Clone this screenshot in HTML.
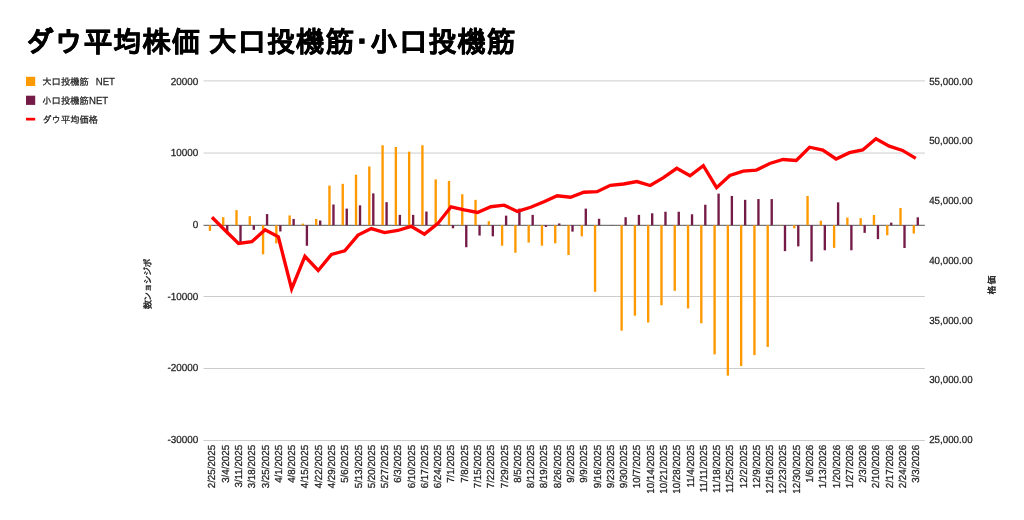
<!DOCTYPE html>
<html lang="ja"><head><meta charset="utf-8"><title>ダウ平均株価 大口投機筋･小口投機筋</title>
<style>html,body{margin:0;padding:0;background:#fff;}body{width:1024px;height:520px;overflow:hidden;}svg{display:block;}</style></head>
<body>
<svg width="1024" height="520" viewBox="0 0 1024 520" text-rendering="geometricPrecision">
<rect width="1024" height="520" fill="#ffffff"/>
<rect x="203.5" y="80.40" width="721.30" height="1" fill="#cccccc"/>
<rect x="203.5" y="152.55" width="721.30" height="1" fill="#cccccc"/>
<rect x="203.5" y="296.00" width="721.30" height="1" fill="#cccccc"/>
<rect x="203.5" y="368.00" width="721.30" height="1" fill="#cccccc"/>
<rect x="203.5" y="440.00" width="721.30" height="1" fill="#cccccc"/>
<rect x="203.5" y="224.80" width="721.30" height="1" fill="#555555"/>
<rect x="208.77" y="225.20" width="2.35" height="5.68" fill="#ff9900"/>
<rect x="212.77" y="225.20" width="2.35" height="0.36" fill="#741b47"/>
<rect x="222.05" y="217.18" width="2.35" height="8.02" fill="#ff9900"/>
<rect x="226.05" y="225.20" width="2.35" height="8.99" fill="#741b47"/>
<rect x="235.33" y="210.14" width="2.35" height="15.06" fill="#ff9900"/>
<rect x="239.33" y="225.20" width="2.35" height="16.82" fill="#741b47"/>
<rect x="248.61" y="216.21" width="2.35" height="8.99" fill="#ff9900"/>
<rect x="252.61" y="225.20" width="2.35" height="4.67" fill="#741b47"/>
<rect x="261.89" y="225.20" width="2.35" height="29.12" fill="#ff9900"/>
<rect x="265.89" y="214.06" width="2.35" height="11.14" fill="#741b47"/>
<rect x="275.17" y="225.20" width="2.35" height="18.19" fill="#ff9900"/>
<rect x="279.17" y="225.20" width="2.35" height="6.26" fill="#741b47"/>
<rect x="288.45" y="215.42" width="2.35" height="9.78" fill="#ff9900"/>
<rect x="292.45" y="218.94" width="2.35" height="6.26" fill="#741b47"/>
<rect x="301.73" y="223.62" width="2.35" height="1.58" fill="#ff9900"/>
<rect x="305.73" y="225.20" width="2.35" height="20.56" fill="#741b47"/>
<rect x="315.01" y="218.94" width="2.35" height="6.26" fill="#ff9900"/>
<rect x="319.01" y="220.53" width="2.35" height="4.67" fill="#741b47"/>
<rect x="328.29" y="185.60" width="2.35" height="39.60" fill="#ff9900"/>
<rect x="332.29" y="204.52" width="2.35" height="20.68" fill="#741b47"/>
<rect x="341.57" y="183.85" width="2.35" height="41.35" fill="#ff9900"/>
<rect x="345.57" y="208.62" width="2.35" height="16.58" fill="#741b47"/>
<rect x="354.85" y="174.68" width="2.35" height="50.52" fill="#ff9900"/>
<rect x="358.85" y="205.31" width="2.35" height="19.89" fill="#741b47"/>
<rect x="368.13" y="166.49" width="2.35" height="58.71" fill="#ff9900"/>
<rect x="372.13" y="193.41" width="2.35" height="31.79" fill="#741b47"/>
<rect x="381.41" y="145.23" width="2.35" height="79.97" fill="#ff9900"/>
<rect x="385.41" y="202.18" width="2.35" height="23.02" fill="#741b47"/>
<rect x="394.69" y="146.98" width="2.35" height="78.22" fill="#ff9900"/>
<rect x="398.69" y="214.86" width="2.35" height="10.34" fill="#741b47"/>
<rect x="407.97" y="151.66" width="2.35" height="73.54" fill="#ff9900"/>
<rect x="411.97" y="214.86" width="2.35" height="10.34" fill="#741b47"/>
<rect x="421.25" y="145.23" width="2.35" height="79.97" fill="#ff9900"/>
<rect x="425.25" y="211.55" width="2.35" height="13.65" fill="#741b47"/>
<rect x="434.53" y="179.36" width="2.35" height="45.84" fill="#ff9900"/>
<rect x="438.53" y="224.48" width="2.35" height="0.72" fill="#741b47"/>
<rect x="447.81" y="180.92" width="2.35" height="44.28" fill="#ff9900"/>
<rect x="451.81" y="225.20" width="2.35" height="3.09" fill="#741b47"/>
<rect x="461.09" y="194.28" width="2.35" height="30.92" fill="#ff9900"/>
<rect x="465.09" y="225.20" width="2.35" height="22.04" fill="#741b47"/>
<rect x="474.37" y="199.84" width="2.35" height="25.36" fill="#ff9900"/>
<rect x="478.37" y="225.20" width="2.35" height="10.34" fill="#741b47"/>
<rect x="487.65" y="221.21" width="2.35" height="3.99" fill="#ff9900"/>
<rect x="491.65" y="225.20" width="2.35" height="11.12" fill="#741b47"/>
<rect x="500.93" y="225.20" width="2.35" height="20.48" fill="#ff9900"/>
<rect x="504.93" y="215.64" width="2.35" height="9.56" fill="#741b47"/>
<rect x="514.22" y="225.20" width="2.35" height="27.50" fill="#ff9900"/>
<rect x="518.22" y="208.62" width="2.35" height="16.58" fill="#741b47"/>
<rect x="527.50" y="225.20" width="2.35" height="17.36" fill="#ff9900"/>
<rect x="531.50" y="214.86" width="2.35" height="10.34" fill="#741b47"/>
<rect x="540.78" y="225.20" width="2.35" height="20.48" fill="#ff9900"/>
<rect x="544.78" y="225.20" width="2.35" height="1.75" fill="#741b47"/>
<rect x="554.06" y="225.20" width="2.35" height="18.14" fill="#ff9900"/>
<rect x="558.06" y="223.45" width="2.35" height="1.75" fill="#741b47"/>
<rect x="567.34" y="225.20" width="2.35" height="29.85" fill="#ff9900"/>
<rect x="571.34" y="225.20" width="2.35" height="6.44" fill="#741b47"/>
<rect x="580.62" y="225.20" width="2.35" height="11.12" fill="#ff9900"/>
<rect x="584.62" y="208.62" width="2.35" height="16.58" fill="#741b47"/>
<rect x="593.89" y="225.20" width="2.35" height="66.62" fill="#ff9900"/>
<rect x="597.89" y="218.76" width="2.35" height="6.44" fill="#741b47"/>
<rect x="611.17" y="224.98" width="2.35" height="0.22" fill="#741b47"/>
<rect x="620.46" y="225.20" width="2.35" height="105.51" fill="#ff9900"/>
<rect x="624.46" y="217.20" width="2.35" height="8.00" fill="#741b47"/>
<rect x="633.74" y="225.20" width="2.35" height="90.46" fill="#ff9900"/>
<rect x="637.74" y="214.86" width="2.35" height="10.34" fill="#741b47"/>
<rect x="647.01" y="225.20" width="2.35" height="97.30" fill="#ff9900"/>
<rect x="651.01" y="213.30" width="2.35" height="11.90" fill="#741b47"/>
<rect x="660.30" y="225.20" width="2.35" height="80.10" fill="#ff9900"/>
<rect x="664.30" y="211.74" width="2.35" height="13.46" fill="#741b47"/>
<rect x="673.58" y="225.20" width="2.35" height="65.64" fill="#ff9900"/>
<rect x="677.58" y="211.74" width="2.35" height="13.46" fill="#741b47"/>
<rect x="686.86" y="225.20" width="2.35" height="83.23" fill="#ff9900"/>
<rect x="690.86" y="214.28" width="2.35" height="10.92" fill="#741b47"/>
<rect x="700.13" y="225.20" width="2.35" height="98.08" fill="#ff9900"/>
<rect x="704.13" y="204.72" width="2.35" height="20.48" fill="#741b47"/>
<rect x="713.41" y="225.20" width="2.35" height="129.15" fill="#ff9900"/>
<rect x="717.41" y="193.60" width="2.35" height="31.60" fill="#741b47"/>
<rect x="726.69" y="225.20" width="2.35" height="150.44" fill="#ff9900"/>
<rect x="730.69" y="195.94" width="2.35" height="29.26" fill="#741b47"/>
<rect x="739.97" y="225.20" width="2.35" height="140.87" fill="#ff9900"/>
<rect x="743.97" y="199.84" width="2.35" height="25.36" fill="#741b47"/>
<rect x="753.26" y="225.20" width="2.35" height="129.93" fill="#ff9900"/>
<rect x="757.26" y="199.06" width="2.35" height="26.14" fill="#741b47"/>
<rect x="766.54" y="225.20" width="2.35" height="121.72" fill="#ff9900"/>
<rect x="770.54" y="199.09" width="2.35" height="26.11" fill="#741b47"/>
<rect x="779.82" y="225.20" width="2.35" height="0.43" fill="#ff9900"/>
<rect x="783.82" y="225.20" width="2.35" height="25.93" fill="#741b47"/>
<rect x="793.10" y="225.20" width="2.35" height="3.09" fill="#ff9900"/>
<rect x="797.10" y="225.20" width="2.35" height="21.17" fill="#741b47"/>
<rect x="806.38" y="195.99" width="2.35" height="29.21" fill="#ff9900"/>
<rect x="810.38" y="225.20" width="2.35" height="36.32" fill="#741b47"/>
<rect x="819.65" y="220.67" width="2.35" height="4.53" fill="#ff9900"/>
<rect x="823.65" y="225.20" width="2.35" height="25.06" fill="#741b47"/>
<rect x="832.93" y="225.20" width="2.35" height="22.65" fill="#ff9900"/>
<rect x="836.93" y="202.34" width="2.35" height="22.86" fill="#741b47"/>
<rect x="846.21" y="217.58" width="2.35" height="7.62" fill="#ff9900"/>
<rect x="850.21" y="225.20" width="2.35" height="25.06" fill="#741b47"/>
<rect x="859.49" y="218.18" width="2.35" height="7.02" fill="#ff9900"/>
<rect x="863.49" y="225.20" width="2.35" height="7.66" fill="#741b47"/>
<rect x="872.78" y="215.07" width="2.35" height="10.13" fill="#ff9900"/>
<rect x="876.78" y="225.20" width="2.35" height="13.93" fill="#741b47"/>
<rect x="886.06" y="225.20" width="2.35" height="10.05" fill="#ff9900"/>
<rect x="890.06" y="222.64" width="2.35" height="2.56" fill="#741b47"/>
<rect x="899.34" y="207.94" width="2.35" height="17.26" fill="#ff9900"/>
<rect x="903.34" y="225.20" width="2.35" height="22.81" fill="#741b47"/>
<rect x="912.62" y="225.20" width="2.35" height="8.35" fill="#ff9900"/>
<rect x="916.62" y="217.33" width="2.35" height="7.87" fill="#741b47"/>
<polyline points="211.95,217.30 225.23,230.48 238.51,243.52 251.79,241.75 265.07,229.68 278.35,236.85 291.63,288.92 304.91,256.28 318.19,270.45 331.47,254.37 344.75,250.76 358.03,235.05 371.31,228.61 384.59,232.62 397.87,230.49 411.15,226.33 424.43,234.14 437.71,223.67 450.99,206.82 464.27,209.86 477.55,212.48 490.83,206.74 504.11,205.17 517.39,211.41 530.67,207.25 543.95,201.70 557.23,195.76 570.51,197.22 583.79,192.24 597.07,191.68 610.35,185.27 623.63,184.01 636.91,181.55 650.19,185.54 663.47,177.69 676.75,168.33 690.03,175.77 703.31,165.67 716.59,187.68 729.87,175.45 743.15,171.11 756.43,170.08 769.71,163.44 782.99,159.51 796.27,160.41 809.55,147.23 822.83,150.18 836.11,158.96 849.39,152.70 862.67,149.94 875.95,138.68 889.23,146.11 902.51,150.42 915.79,158.39" fill="none" stroke="#ff0000" stroke-width="3.35" stroke-linejoin="miter" stroke-linecap="butt"/>
<text x="25.1" y="52.1" font-family="&quot;Liberation Sans&quot;, &quot;IPAGothic&quot;, sans-serif" font-size="28.6" font-weight="bold" fill="#000000" stroke="#000000" stroke-width="0.45" letter-spacing="0.7" word-spacing="-1.3">ダウ平均株価 大口投機筋･小口投機筋</text>
<rect x="26" y="76.8" width="9.2" height="9.2" fill="#ff9900"/>
<text transform="translate(42.30,85.00)" font-family="&quot;Liberation Sans&quot;, &quot;IPAGothic&quot;, sans-serif" font-size="9.3" text-anchor="start" fill="#222222" stroke="#222222" stroke-width="0.25" >大口投機筋</text>
<text transform="translate(95.80,85.00) scale(0.94,1)" font-family="&quot;Liberation Sans&quot;, &quot;IPAGothic&quot;, sans-serif" font-size="10.2" text-anchor="start" fill="#222222" stroke="#222222" stroke-width="0.25" >NET</text>
<rect x="26" y="95.7" width="9.2" height="9.2" fill="#741b47"/>
<text transform="translate(42.30,104.00)" font-family="&quot;Liberation Sans&quot;, &quot;IPAGothic&quot;, sans-serif" font-size="9.3" text-anchor="start" fill="#222222" stroke="#222222" stroke-width="0.25" >小口投機筋</text>
<text transform="translate(89.00,104.00) scale(0.94,1)" font-family="&quot;Liberation Sans&quot;, &quot;IPAGothic&quot;, sans-serif" font-size="10.2" text-anchor="start" fill="#222222" stroke="#222222" stroke-width="0.25" >NET</text>
<rect x="26" y="117.8" width="9.2" height="2.7" fill="#ff0000"/>
<text transform="translate(42.30,122.60)" font-family="&quot;Liberation Sans&quot;, &quot;IPAGothic&quot;, sans-serif" font-size="9.3" text-anchor="start" fill="#222222" stroke="#222222" stroke-width="0.25" >ダウ平均価格</text>
<text transform="translate(198.40,84.70) scale(0.975,1)" font-family="&quot;Liberation Sans&quot;, &quot;IPAGothic&quot;, sans-serif" font-size="10.2" text-anchor="end" fill="#222222" stroke="#222222" stroke-width="0.25" >20000</text>
<text transform="translate(198.40,155.90) scale(0.975,1)" font-family="&quot;Liberation Sans&quot;, &quot;IPAGothic&quot;, sans-serif" font-size="10.2" text-anchor="end" fill="#222222" stroke="#222222" stroke-width="0.25" >10000</text>
<text transform="translate(198.40,227.80) scale(0.975,1)" font-family="&quot;Liberation Sans&quot;, &quot;IPAGothic&quot;, sans-serif" font-size="10.2" text-anchor="end" fill="#222222" stroke="#222222" stroke-width="0.25" >0</text>
<text transform="translate(198.40,299.80) scale(0.975,1)" font-family="&quot;Liberation Sans&quot;, &quot;IPAGothic&quot;, sans-serif" font-size="10.2" text-anchor="end" fill="#222222" stroke="#222222" stroke-width="0.25" >-10000</text>
<text transform="translate(198.40,371.20) scale(0.975,1)" font-family="&quot;Liberation Sans&quot;, &quot;IPAGothic&quot;, sans-serif" font-size="10.2" text-anchor="end" fill="#222222" stroke="#222222" stroke-width="0.25" >-20000</text>
<text transform="translate(198.40,443.30) scale(0.975,1)" font-family="&quot;Liberation Sans&quot;, &quot;IPAGothic&quot;, sans-serif" font-size="10.2" text-anchor="end" fill="#222222" stroke="#222222" stroke-width="0.25" >-30000</text>
<text transform="translate(929.20,443.30) scale(0.957,1)" font-family="&quot;Liberation Sans&quot;, &quot;IPAGothic&quot;, sans-serif" font-size="10.2" text-anchor="start" fill="#222222" stroke="#222222" stroke-width="0.25" >25,000.00</text>
<text transform="translate(929.20,383.40) scale(0.957,1)" font-family="&quot;Liberation Sans&quot;, &quot;IPAGothic&quot;, sans-serif" font-size="10.2" text-anchor="start" fill="#222222" stroke="#222222" stroke-width="0.25" >30,000.00</text>
<text transform="translate(929.20,323.60) scale(0.957,1)" font-family="&quot;Liberation Sans&quot;, &quot;IPAGothic&quot;, sans-serif" font-size="10.2" text-anchor="start" fill="#222222" stroke="#222222" stroke-width="0.25" >35,000.00</text>
<text transform="translate(929.20,263.70) scale(0.957,1)" font-family="&quot;Liberation Sans&quot;, &quot;IPAGothic&quot;, sans-serif" font-size="10.2" text-anchor="start" fill="#222222" stroke="#222222" stroke-width="0.25" >40,000.00</text>
<text transform="translate(929.20,204.00) scale(0.957,1)" font-family="&quot;Liberation Sans&quot;, &quot;IPAGothic&quot;, sans-serif" font-size="10.2" text-anchor="start" fill="#222222" stroke="#222222" stroke-width="0.25" >45,000.00</text>
<text transform="translate(929.20,144.00) scale(0.957,1)" font-family="&quot;Liberation Sans&quot;, &quot;IPAGothic&quot;, sans-serif" font-size="10.2" text-anchor="start" fill="#222222" stroke="#222222" stroke-width="0.25" >50,000.00</text>
<text transform="translate(929.20,84.90) scale(0.957,1)" font-family="&quot;Liberation Sans&quot;, &quot;IPAGothic&quot;, sans-serif" font-size="10.2" text-anchor="start" fill="#222222" stroke="#222222" stroke-width="0.25" >55,000.00</text>
<text transform="translate(215.45,444.90) rotate(-90) scale(0.957,1)" font-family="&quot;Liberation Sans&quot;, &quot;IPAGothic&quot;, sans-serif" font-size="10.2" text-anchor="end" fill="#222222" stroke="#222222" stroke-width="0.25" >2/25/2025</text>
<text transform="translate(228.73,444.90) rotate(-90) scale(0.957,1)" font-family="&quot;Liberation Sans&quot;, &quot;IPAGothic&quot;, sans-serif" font-size="10.2" text-anchor="end" fill="#222222" stroke="#222222" stroke-width="0.25" >3/4/2025</text>
<text transform="translate(242.01,444.90) rotate(-90) scale(0.957,1)" font-family="&quot;Liberation Sans&quot;, &quot;IPAGothic&quot;, sans-serif" font-size="10.2" text-anchor="end" fill="#222222" stroke="#222222" stroke-width="0.25" >3/11/2025</text>
<text transform="translate(255.29,444.90) rotate(-90) scale(0.957,1)" font-family="&quot;Liberation Sans&quot;, &quot;IPAGothic&quot;, sans-serif" font-size="10.2" text-anchor="end" fill="#222222" stroke="#222222" stroke-width="0.25" >3/18/2025</text>
<text transform="translate(268.57,444.90) rotate(-90) scale(0.957,1)" font-family="&quot;Liberation Sans&quot;, &quot;IPAGothic&quot;, sans-serif" font-size="10.2" text-anchor="end" fill="#222222" stroke="#222222" stroke-width="0.25" >3/25/2025</text>
<text transform="translate(281.85,444.90) rotate(-90) scale(0.957,1)" font-family="&quot;Liberation Sans&quot;, &quot;IPAGothic&quot;, sans-serif" font-size="10.2" text-anchor="end" fill="#222222" stroke="#222222" stroke-width="0.25" >4/1/2025</text>
<text transform="translate(295.13,444.90) rotate(-90) scale(0.957,1)" font-family="&quot;Liberation Sans&quot;, &quot;IPAGothic&quot;, sans-serif" font-size="10.2" text-anchor="end" fill="#222222" stroke="#222222" stroke-width="0.25" >4/8/2025</text>
<text transform="translate(308.41,444.90) rotate(-90) scale(0.957,1)" font-family="&quot;Liberation Sans&quot;, &quot;IPAGothic&quot;, sans-serif" font-size="10.2" text-anchor="end" fill="#222222" stroke="#222222" stroke-width="0.25" >4/15/2025</text>
<text transform="translate(321.69,444.90) rotate(-90) scale(0.957,1)" font-family="&quot;Liberation Sans&quot;, &quot;IPAGothic&quot;, sans-serif" font-size="10.2" text-anchor="end" fill="#222222" stroke="#222222" stroke-width="0.25" >4/22/2025</text>
<text transform="translate(334.97,444.90) rotate(-90) scale(0.957,1)" font-family="&quot;Liberation Sans&quot;, &quot;IPAGothic&quot;, sans-serif" font-size="10.2" text-anchor="end" fill="#222222" stroke="#222222" stroke-width="0.25" >4/29/2025</text>
<text transform="translate(348.25,444.90) rotate(-90) scale(0.957,1)" font-family="&quot;Liberation Sans&quot;, &quot;IPAGothic&quot;, sans-serif" font-size="10.2" text-anchor="end" fill="#222222" stroke="#222222" stroke-width="0.25" >5/6/2025</text>
<text transform="translate(361.53,444.90) rotate(-90) scale(0.957,1)" font-family="&quot;Liberation Sans&quot;, &quot;IPAGothic&quot;, sans-serif" font-size="10.2" text-anchor="end" fill="#222222" stroke="#222222" stroke-width="0.25" >5/13/2025</text>
<text transform="translate(374.81,444.90) rotate(-90) scale(0.957,1)" font-family="&quot;Liberation Sans&quot;, &quot;IPAGothic&quot;, sans-serif" font-size="10.2" text-anchor="end" fill="#222222" stroke="#222222" stroke-width="0.25" >5/20/2025</text>
<text transform="translate(388.09,444.90) rotate(-90) scale(0.957,1)" font-family="&quot;Liberation Sans&quot;, &quot;IPAGothic&quot;, sans-serif" font-size="10.2" text-anchor="end" fill="#222222" stroke="#222222" stroke-width="0.25" >5/27/2025</text>
<text transform="translate(401.37,444.90) rotate(-90) scale(0.957,1)" font-family="&quot;Liberation Sans&quot;, &quot;IPAGothic&quot;, sans-serif" font-size="10.2" text-anchor="end" fill="#222222" stroke="#222222" stroke-width="0.25" >6/3/2025</text>
<text transform="translate(414.65,444.90) rotate(-90) scale(0.957,1)" font-family="&quot;Liberation Sans&quot;, &quot;IPAGothic&quot;, sans-serif" font-size="10.2" text-anchor="end" fill="#222222" stroke="#222222" stroke-width="0.25" >6/10/2025</text>
<text transform="translate(427.93,444.90) rotate(-90) scale(0.957,1)" font-family="&quot;Liberation Sans&quot;, &quot;IPAGothic&quot;, sans-serif" font-size="10.2" text-anchor="end" fill="#222222" stroke="#222222" stroke-width="0.25" >6/17/2025</text>
<text transform="translate(441.21,444.90) rotate(-90) scale(0.957,1)" font-family="&quot;Liberation Sans&quot;, &quot;IPAGothic&quot;, sans-serif" font-size="10.2" text-anchor="end" fill="#222222" stroke="#222222" stroke-width="0.25" >6/24/2025</text>
<text transform="translate(454.49,444.90) rotate(-90) scale(0.957,1)" font-family="&quot;Liberation Sans&quot;, &quot;IPAGothic&quot;, sans-serif" font-size="10.2" text-anchor="end" fill="#222222" stroke="#222222" stroke-width="0.25" >7/1/2025</text>
<text transform="translate(467.77,444.90) rotate(-90) scale(0.957,1)" font-family="&quot;Liberation Sans&quot;, &quot;IPAGothic&quot;, sans-serif" font-size="10.2" text-anchor="end" fill="#222222" stroke="#222222" stroke-width="0.25" >7/8/2025</text>
<text transform="translate(481.05,444.90) rotate(-90) scale(0.957,1)" font-family="&quot;Liberation Sans&quot;, &quot;IPAGothic&quot;, sans-serif" font-size="10.2" text-anchor="end" fill="#222222" stroke="#222222" stroke-width="0.25" >7/15/2025</text>
<text transform="translate(494.33,444.90) rotate(-90) scale(0.957,1)" font-family="&quot;Liberation Sans&quot;, &quot;IPAGothic&quot;, sans-serif" font-size="10.2" text-anchor="end" fill="#222222" stroke="#222222" stroke-width="0.25" >7/22/2025</text>
<text transform="translate(507.61,444.90) rotate(-90) scale(0.957,1)" font-family="&quot;Liberation Sans&quot;, &quot;IPAGothic&quot;, sans-serif" font-size="10.2" text-anchor="end" fill="#222222" stroke="#222222" stroke-width="0.25" >7/29/2025</text>
<text transform="translate(520.89,444.90) rotate(-90) scale(0.957,1)" font-family="&quot;Liberation Sans&quot;, &quot;IPAGothic&quot;, sans-serif" font-size="10.2" text-anchor="end" fill="#222222" stroke="#222222" stroke-width="0.25" >8/5/2025</text>
<text transform="translate(534.17,444.90) rotate(-90) scale(0.957,1)" font-family="&quot;Liberation Sans&quot;, &quot;IPAGothic&quot;, sans-serif" font-size="10.2" text-anchor="end" fill="#222222" stroke="#222222" stroke-width="0.25" >8/12/2025</text>
<text transform="translate(547.45,444.90) rotate(-90) scale(0.957,1)" font-family="&quot;Liberation Sans&quot;, &quot;IPAGothic&quot;, sans-serif" font-size="10.2" text-anchor="end" fill="#222222" stroke="#222222" stroke-width="0.25" >8/19/2025</text>
<text transform="translate(560.73,444.90) rotate(-90) scale(0.957,1)" font-family="&quot;Liberation Sans&quot;, &quot;IPAGothic&quot;, sans-serif" font-size="10.2" text-anchor="end" fill="#222222" stroke="#222222" stroke-width="0.25" >8/26/2025</text>
<text transform="translate(574.01,444.90) rotate(-90) scale(0.957,1)" font-family="&quot;Liberation Sans&quot;, &quot;IPAGothic&quot;, sans-serif" font-size="10.2" text-anchor="end" fill="#222222" stroke="#222222" stroke-width="0.25" >9/2/2025</text>
<text transform="translate(587.29,444.90) rotate(-90) scale(0.957,1)" font-family="&quot;Liberation Sans&quot;, &quot;IPAGothic&quot;, sans-serif" font-size="10.2" text-anchor="end" fill="#222222" stroke="#222222" stroke-width="0.25" >9/9/2025</text>
<text transform="translate(600.57,444.90) rotate(-90) scale(0.957,1)" font-family="&quot;Liberation Sans&quot;, &quot;IPAGothic&quot;, sans-serif" font-size="10.2" text-anchor="end" fill="#222222" stroke="#222222" stroke-width="0.25" >9/16/2025</text>
<text transform="translate(613.85,444.90) rotate(-90) scale(0.957,1)" font-family="&quot;Liberation Sans&quot;, &quot;IPAGothic&quot;, sans-serif" font-size="10.2" text-anchor="end" fill="#222222" stroke="#222222" stroke-width="0.25" >9/23/2025</text>
<text transform="translate(627.13,444.90) rotate(-90) scale(0.957,1)" font-family="&quot;Liberation Sans&quot;, &quot;IPAGothic&quot;, sans-serif" font-size="10.2" text-anchor="end" fill="#222222" stroke="#222222" stroke-width="0.25" >9/30/2025</text>
<text transform="translate(640.41,444.90) rotate(-90) scale(0.957,1)" font-family="&quot;Liberation Sans&quot;, &quot;IPAGothic&quot;, sans-serif" font-size="10.2" text-anchor="end" fill="#222222" stroke="#222222" stroke-width="0.25" >10/7/2025</text>
<text transform="translate(653.69,444.90) rotate(-90) scale(0.957,1)" font-family="&quot;Liberation Sans&quot;, &quot;IPAGothic&quot;, sans-serif" font-size="10.2" text-anchor="end" fill="#222222" stroke="#222222" stroke-width="0.25" >10/14/2025</text>
<text transform="translate(666.97,444.90) rotate(-90) scale(0.957,1)" font-family="&quot;Liberation Sans&quot;, &quot;IPAGothic&quot;, sans-serif" font-size="10.2" text-anchor="end" fill="#222222" stroke="#222222" stroke-width="0.25" >10/21/2025</text>
<text transform="translate(680.25,444.90) rotate(-90) scale(0.957,1)" font-family="&quot;Liberation Sans&quot;, &quot;IPAGothic&quot;, sans-serif" font-size="10.2" text-anchor="end" fill="#222222" stroke="#222222" stroke-width="0.25" >10/28/2025</text>
<text transform="translate(693.53,444.90) rotate(-90) scale(0.957,1)" font-family="&quot;Liberation Sans&quot;, &quot;IPAGothic&quot;, sans-serif" font-size="10.2" text-anchor="end" fill="#222222" stroke="#222222" stroke-width="0.25" >11/4/2025</text>
<text transform="translate(706.81,444.90) rotate(-90) scale(0.957,1)" font-family="&quot;Liberation Sans&quot;, &quot;IPAGothic&quot;, sans-serif" font-size="10.2" text-anchor="end" fill="#222222" stroke="#222222" stroke-width="0.25" >11/11/2025</text>
<text transform="translate(720.09,444.90) rotate(-90) scale(0.957,1)" font-family="&quot;Liberation Sans&quot;, &quot;IPAGothic&quot;, sans-serif" font-size="10.2" text-anchor="end" fill="#222222" stroke="#222222" stroke-width="0.25" >11/18/2025</text>
<text transform="translate(733.37,444.90) rotate(-90) scale(0.957,1)" font-family="&quot;Liberation Sans&quot;, &quot;IPAGothic&quot;, sans-serif" font-size="10.2" text-anchor="end" fill="#222222" stroke="#222222" stroke-width="0.25" >11/25/2025</text>
<text transform="translate(746.65,444.90) rotate(-90) scale(0.957,1)" font-family="&quot;Liberation Sans&quot;, &quot;IPAGothic&quot;, sans-serif" font-size="10.2" text-anchor="end" fill="#222222" stroke="#222222" stroke-width="0.25" >12/2/2025</text>
<text transform="translate(759.93,444.90) rotate(-90) scale(0.957,1)" font-family="&quot;Liberation Sans&quot;, &quot;IPAGothic&quot;, sans-serif" font-size="10.2" text-anchor="end" fill="#222222" stroke="#222222" stroke-width="0.25" >12/9/2025</text>
<text transform="translate(773.21,444.90) rotate(-90) scale(0.957,1)" font-family="&quot;Liberation Sans&quot;, &quot;IPAGothic&quot;, sans-serif" font-size="10.2" text-anchor="end" fill="#222222" stroke="#222222" stroke-width="0.25" >12/16/2025</text>
<text transform="translate(786.49,444.90) rotate(-90) scale(0.957,1)" font-family="&quot;Liberation Sans&quot;, &quot;IPAGothic&quot;, sans-serif" font-size="10.2" text-anchor="end" fill="#222222" stroke="#222222" stroke-width="0.25" >12/23/2025</text>
<text transform="translate(799.77,444.90) rotate(-90) scale(0.957,1)" font-family="&quot;Liberation Sans&quot;, &quot;IPAGothic&quot;, sans-serif" font-size="10.2" text-anchor="end" fill="#222222" stroke="#222222" stroke-width="0.25" >12/30/2025</text>
<text transform="translate(813.05,444.90) rotate(-90) scale(0.957,1)" font-family="&quot;Liberation Sans&quot;, &quot;IPAGothic&quot;, sans-serif" font-size="10.2" text-anchor="end" fill="#222222" stroke="#222222" stroke-width="0.25" >1/6/2026</text>
<text transform="translate(826.33,444.90) rotate(-90) scale(0.957,1)" font-family="&quot;Liberation Sans&quot;, &quot;IPAGothic&quot;, sans-serif" font-size="10.2" text-anchor="end" fill="#222222" stroke="#222222" stroke-width="0.25" >1/13/2026</text>
<text transform="translate(839.61,444.90) rotate(-90) scale(0.957,1)" font-family="&quot;Liberation Sans&quot;, &quot;IPAGothic&quot;, sans-serif" font-size="10.2" text-anchor="end" fill="#222222" stroke="#222222" stroke-width="0.25" >1/20/2026</text>
<text transform="translate(852.89,444.90) rotate(-90) scale(0.957,1)" font-family="&quot;Liberation Sans&quot;, &quot;IPAGothic&quot;, sans-serif" font-size="10.2" text-anchor="end" fill="#222222" stroke="#222222" stroke-width="0.25" >1/27/2026</text>
<text transform="translate(866.17,444.90) rotate(-90) scale(0.957,1)" font-family="&quot;Liberation Sans&quot;, &quot;IPAGothic&quot;, sans-serif" font-size="10.2" text-anchor="end" fill="#222222" stroke="#222222" stroke-width="0.25" >2/3/2026</text>
<text transform="translate(879.45,444.90) rotate(-90) scale(0.957,1)" font-family="&quot;Liberation Sans&quot;, &quot;IPAGothic&quot;, sans-serif" font-size="10.2" text-anchor="end" fill="#222222" stroke="#222222" stroke-width="0.25" >2/10/2026</text>
<text transform="translate(892.73,444.90) rotate(-90) scale(0.957,1)" font-family="&quot;Liberation Sans&quot;, &quot;IPAGothic&quot;, sans-serif" font-size="10.2" text-anchor="end" fill="#222222" stroke="#222222" stroke-width="0.25" >2/17/2026</text>
<text transform="translate(906.01,444.90) rotate(-90) scale(0.957,1)" font-family="&quot;Liberation Sans&quot;, &quot;IPAGothic&quot;, sans-serif" font-size="10.2" text-anchor="end" fill="#222222" stroke="#222222" stroke-width="0.25" >2/24/2026</text>
<text transform="translate(919.29,444.90) rotate(-90) scale(0.957,1)" font-family="&quot;Liberation Sans&quot;, &quot;IPAGothic&quot;, sans-serif" font-size="10.2" text-anchor="end" fill="#222222" stroke="#222222" stroke-width="0.25" >3/3/2026</text>
<text transform="translate(150.90,284.30) rotate(-90)" font-family="&quot;Liberation Sans&quot;, &quot;IPAGothic&quot;, sans-serif" font-size="9.3" text-anchor="middle" fill="#222222" stroke="#222222" stroke-width="0.35" direction="rtl" unicode-bidi="bidi-override" letter-spacing="-1">ポジション数</text>
<text transform="translate(995.10,284.60) rotate(-90)" font-family="&quot;Liberation Sans&quot;, &quot;IPAGothic&quot;, sans-serif" font-size="9.0" text-anchor="middle" fill="#222222" stroke="#222222" stroke-width="0.4" direction="rtl" unicode-bidi="bidi-override" letter-spacing="0.8">価格</text>
</svg>
</body></html>
